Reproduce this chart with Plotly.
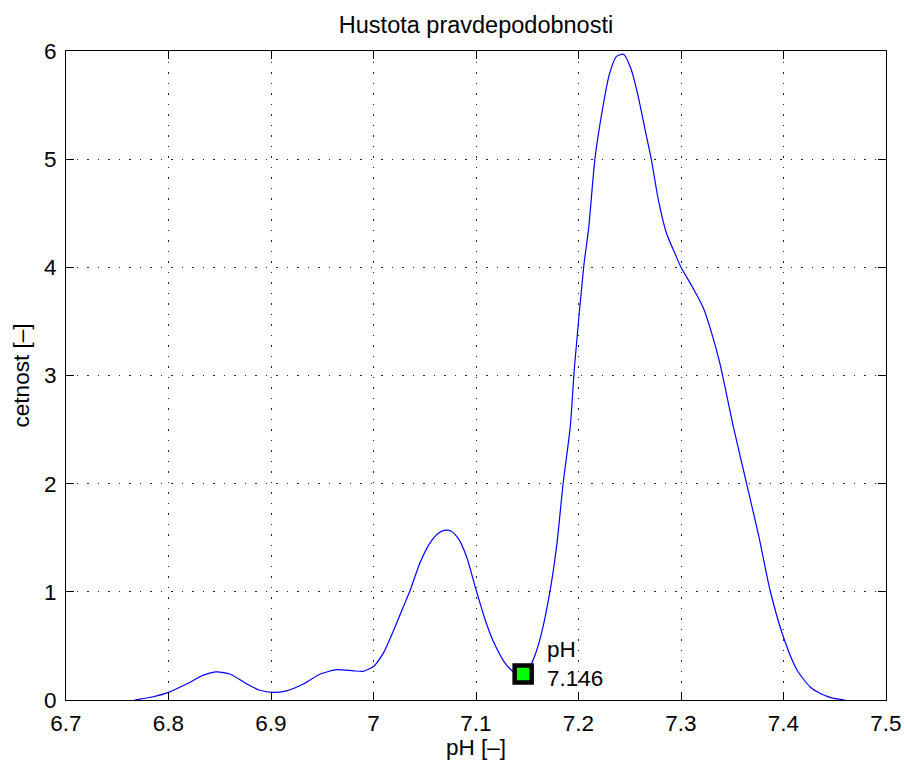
import plotly.graph_objects as go

# Density curve (pH vs cetnost)
ph = [6.767, 6.785, 6.800, 6.818, 6.834, 6.847, 6.860, 6.876, 6.889, 6.902,
      6.915, 6.932, 6.948, 6.964, 6.980, 6.990, 7.000, 7.010, 7.019, 7.029,
      7.036, 7.045, 7.055, 7.063, 7.070, 7.076, 7.083, 7.091, 7.100, 7.109,
      7.117, 7.127, 7.134, 7.140, 7.146, 7.152, 7.157, 7.164, 7.173, 7.179,
      7.185, 7.192, 7.196, 7.205, 7.210, 7.216, 7.223, 7.230, 7.237, 7.244,
      7.251, 7.258, 7.265, 7.271, 7.278, 7.286, 7.294, 7.300, 7.311, 7.322,
      7.330, 7.338, 7.351, 7.364, 7.376, 7.387, 7.400, 7.413, 7.426, 7.436,
      7.447, 7.460]
cetnost = [0.00, 0.03, 0.07, 0.15, 0.23, 0.26, 0.24, 0.15, 0.09, 0.07,
           0.085, 0.15, 0.24, 0.28, 0.27, 0.265, 0.31, 0.44, 0.63, 0.86,
           1.02, 1.26, 1.45, 1.54, 1.57, 1.56, 1.49, 1.32, 1.02, 0.74,
           0.54, 0.36, 0.28, 0.24, 0.23, 0.30, 0.40, 0.62, 1.05, 1.45,
           2.00, 2.53, 3.07, 4.00, 4.37, 5.00, 5.44, 5.78, 5.95, 5.97,
           5.84, 5.59, 5.27, 5.00, 4.62, 4.31, 4.13, 4.00, 3.82, 3.62,
           3.39, 3.11, 2.53, 2.00, 1.51, 1.01, 0.58, 0.28, 0.12, 0.06,
           0.02, 0.00]

# Data tip
tip_x = [7.146]
tip_y = [0.24]
tip_label = "pH<br>7.146"

x_ticks = [6.7, 6.8, 6.9, 7.0, 7.1, 7.2, 7.3, 7.4, 7.5]
x_ticktext = ["6.7", "6.8", "6.9", "7", "7.1", "7.2", "7.3", "7.4", "7.5"]
y_ticks = [0, 1, 2, 3, 4, 5, 6]

FONT = "Liberation Sans, Arial, sans-serif"
FS = 22.5

fig = go.Figure()
fig.add_trace(go.Scatter(x=ph, y=cetnost, mode="lines",
                         line=dict(color="#0000ff", width=1.2, shape="spline", smoothing=0.6),
                         showlegend=False, hoverinfo="skip"))
fig.add_trace(go.Scatter(x=tip_x, y=tip_y, mode="markers",
                         marker=dict(symbol="square", size=17, color="#00ff00",
                                     line=dict(color="black", width=4.5)),
                         showlegend=False))
fig.add_annotation(x=tip_x[0], y=tip_y[0], text=tip_label, showarrow=False,
                   xanchor="left", yanchor="middle", align="left",
                   xshift=22, yshift=10,
                   font=dict(family=FONT, size=FS, color="black"))

axis_common = dict(showline=True, linecolor="black", linewidth=1.2, mirror="ticks",
                   ticks="inside", ticklen=8, tickcolor="black", tickwidth=1,
                   showgrid=True, gridcolor="#222222", gridwidth=1,
                   griddash="1.5px,9px", zeroline=False, automargin=False,
                   tickfont=dict(family=FONT, size=FS, color="black"))

fig.update_xaxes(range=[6.7, 7.5], tickvals=x_ticks, ticktext=x_ticktext,
                 ticklabelstandoff=3,
                 title=dict(text="pH [–]", standoff=9,
                            font=dict(family=FONT, size=FS, color="black")),
                 **axis_common)
fig.update_yaxes(range=[0, 6], tickvals=y_ticks, ticklabelstandoff=4,
                 title=dict(text="cetnost [–]", standoff=8,
                            font=dict(family=FONT, size=FS, color="black")),
                 **axis_common)

fig.update_layout(
    width=904, height=760,
    margin=dict(l=66, r=18, t=51, b=60),
    paper_bgcolor="white", plot_bgcolor="white",
    title=dict(text="Hustota pravdepodobnosti", x=0.5, xref="paper",
               y=1 - 25 / 760, yref="container", yanchor="middle",
               font=dict(family=FONT, size=23.5, color="black")),
)

fig.write_html("out.html")
